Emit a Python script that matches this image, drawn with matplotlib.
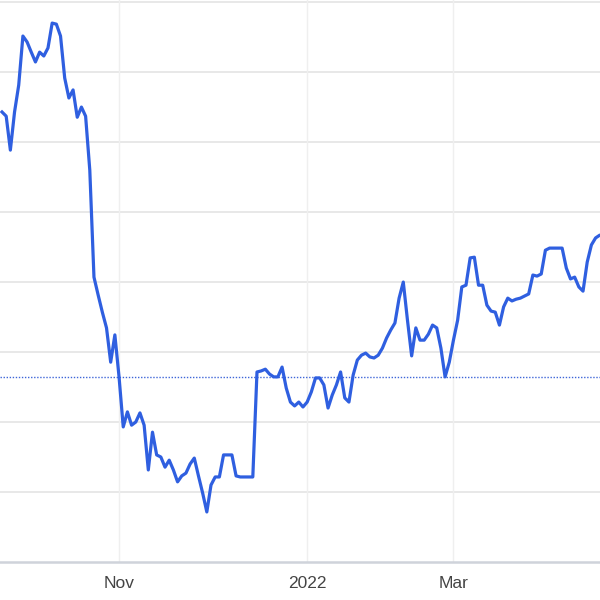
import numpy as np
import matplotlib
matplotlib.use("Agg")
import matplotlib.pyplot as plt

# closing prices, one per trading day
prices = [
    22.86, 22.74, 21.77, 22.86, 23.63, 25.03, 24.86, 24.57, 24.29, 24.57,
    24.46, 24.69, 25.40, 25.37, 25.03, 23.83, 23.26, 23.49, 22.71, 23.00,
    22.74, 21.20, 18.14, 17.63, 17.14, 16.69, 15.71, 16.49, 15.29, 13.86,
    14.29, 13.91, 14.00, 14.26, 13.91, 12.63, 13.71, 13.06, 13.00, 12.71,
    12.91, 12.63, 12.29, 12.46, 12.54, 12.80, 12.97, 12.46, 11.97, 11.43,
    12.20, 12.43, 12.43, 13.06, 13.06, 13.06, 12.46, 12.43, 12.43, 12.43,
    12.43, 15.43, 15.46, 15.51, 15.37, 15.29, 15.29, 15.57, 14.97, 14.57,
    14.46, 14.57, 14.43, 14.57, 14.86, 15.26, 15.26, 15.06, 14.40, 14.77,
    15.06, 15.43, 14.69, 14.57, 15.34, 15.77, 15.91, 15.97, 15.86, 15.83,
    15.91, 16.11, 16.40, 16.63, 16.83, 17.54, 18.00, 16.91, 15.89, 16.69,
    16.34, 16.34, 16.51, 16.77, 16.69, 16.11, 15.29, 15.71, 16.34, 16.91,
    17.86, 17.91, 18.69, 18.71, 17.91, 17.91, 17.34, 17.17, 17.14, 16.77,
    17.29, 17.54, 17.46, 17.51, 17.54, 17.60, 17.66, 18.20, 18.17, 18.23,
    18.91, 18.97, 18.97, 18.97, 18.97, 18.40, 18.09, 18.14, 17.86, 17.74,
    18.57, 19.06, 19.26, 19.34, 19.34,
]
prev_close = 15.29

tick_pos = [28, 73, 108]          # trading-day index of first session
tick_labels = ["Nov", "2022", "Mar"]
grid_levels = [12, 14, 16, 18, 20, 22, 24, 26]

plt.rcParams["font.family"] = ["Liberation Sans", "DejaVu Sans"]

fig = plt.figure(figsize=(6, 6), dpi=100)
ax = fig.add_axes([0, 38 / 600, 1, 562 / 600])

days = np.arange(len(prices))
ax.plot(days, prices, color="#2f5fe0", lw=2.3, solid_joinstyle="round", zorder=3)
ax.axhline(prev_close, color="#3f66d8", lw=1.0, ls=(0, (1, 1.2)), zorder=2)

for g in grid_levels:
    ax.axhline(g, color="#e6e6e6", lw=1.3, zorder=1)
for t in tick_pos:
    ax.axvline(t, color="#efefef", lw=1.0, zorder=1)

ax.set_xlim(-0.48, 143.06)
ax.set_ylim(10, 26.06)

for s in ["left", "right", "top"]:
    ax.spines[s].set_visible(False)
ax.spines["bottom"].set_color("#cfd3da")
ax.spines["bottom"].set_linewidth(1.8)

ax.set_yticks([])
ax.set_xticks(tick_pos)
ax.set_xticklabels(tick_labels)
ax.tick_params(axis="x", length=0, pad=10, labelsize=12.5, labelcolor="#444444")

fig.savefig("out.png", dpi=100)
